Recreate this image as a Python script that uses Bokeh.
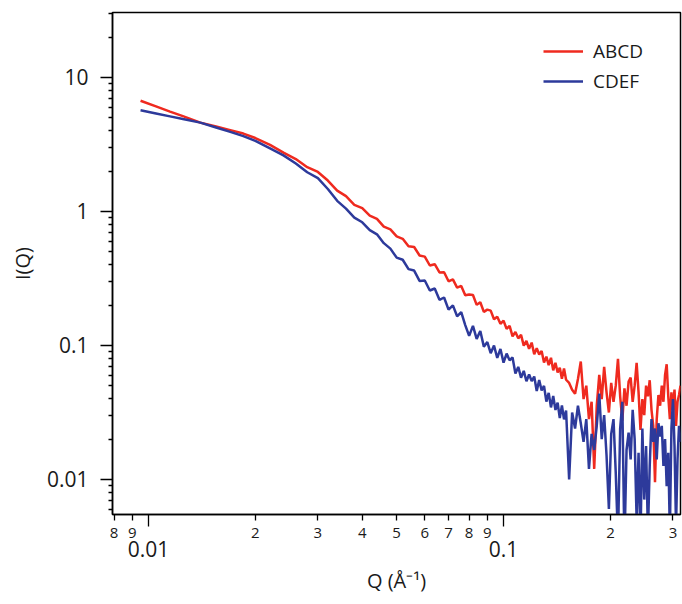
from bokeh.plotting import figure
from bokeh.models import (FixedTicker, LogAxis, CustomJSTickFormatter, Legend,
                          LegendItem, Range1d)
from bokeh.embed import file_html
from bokeh.resources import INLINE

# ---------------- data ----------------
Q = [0.0095, 0.0105, 0.0115, 0.0125, 0.014, 0.0155, 0.017, 0.0185, 0.020, 0.022,
     0.024, 0.026, 0.028, 0.030, 0.032, 0.034, 0.036, 0.038, 0.040, 0.042,
     0.044, 0.046, 0.048, 0.050,
     0.052, 0.054, 0.056, 0.058, 0.060, 0.062, 0.064, 0.066, 0.068, 0.070,
     0.072, 0.074, 0.076, 0.078, 0.080, 0.082, 0.084, 0.086, 0.088, 0.090,
     0.092, 0.094, 0.096, 0.098, 0.100, 0.102, 0.104, 0.106, 0.108, 0.110,
     0.112, 0.114, 0.116, 0.118, 0.120, 0.122, 0.124, 0.126, 0.128, 0.130,
     0.132, 0.134, 0.136, 0.138, 0.140, 0.142, 0.144, 0.146, 0.148, 0.150,
     0.153, 0.156, 0.159, 0.162, 0.165, 0.168, 0.171, 0.174, 0.177, 0.180,
     0.183, 0.186, 0.189, 0.192, 0.195, 0.198, 0.201, 0.204, 0.207, 0.210,
     0.213, 0.216, 0.219, 0.222, 0.225, 0.228, 0.231, 0.234, 0.237, 0.240,
     0.243, 0.246, 0.249, 0.252, 0.255, 0.258, 0.261, 0.264, 0.267, 0.270,
     0.273, 0.276, 0.279, 0.282, 0.285, 0.288, 0.291, 0.294, 0.297, 0.300,
     0.303, 0.306, 0.309, 0.312, 0.315]

I_ABCD = [6.70, 6.08, 5.56, 5.14, 4.60, 4.30, 4.04, 3.81, 3.53, 3.14,
          2.75, 2.46, 2.14, 1.97, 1.70, 1.43, 1.30, 1.12, 1.06, 0.93,
          0.88, 0.77, 0.735, 0.652,
          0.625, 0.550, 0.543, 0.469, 0.460, 0.395, 0.404, 0.351, 0.352, 0.301,
          0.311, 0.270, 0.278, 0.237, 0.240, 0.238, 0.201, 0.210, 0.178, 0.185,
          0.182, 0.157, 0.164, 0.145, 0.153, 0.133, 0.140, 0.117, 0.126, 0.113,
          0.120, 0.0998, 0.108, 0.0944, 0.105, 0.0859, 0.0953, 0.0857, 0.0908, 0.0745,
          0.0826, 0.0713, 0.0809, 0.0652, 0.0743, 0.0628, 0.0682, 0.0564, 0.0673, 0.0555,
          0.0525, 0.0468, 0.0437, 0.0562, 0.0759, 0.0398, 0.0501, 0.0282, 0.0380, 0.0120,
          0.0355, 0.0603, 0.0398, 0.0692, 0.0447, 0.0316, 0.0525, 0.0380, 0.0501, 0.0794,
          0.0417, 0.0275, 0.0479, 0.0355, 0.0537, 0.0575, 0.0380, 0.0501, 0.0741, 0.0447,
          0.0234, 0.0398, 0.0302, 0.0501, 0.0417, 0.0550, 0.0331, 0.0251, 0.00955, 0.0282,
          0.0427, 0.0355, 0.0501, 0.0380, 0.0603, 0.0724, 0.0417, 0.0282, 0.0447, 0.0331,
          0.0468, 0.0251, 0.0380, 0.0427, 0.0501]

I_CDEF = [5.68, 5.38, 5.12, 4.89, 4.60, 4.23, 3.92, 3.65, 3.36, 2.95,
          2.62, 2.28, 1.96, 1.77, 1.47, 1.20, 1.05, 0.90, 0.83, 0.725,
          0.675, 0.58, 0.528, 0.452,
          0.436, 0.371, 0.362, 0.303, 0.305, 0.257, 0.266, 0.219, 0.228, 0.185,
          0.199, 0.165, 0.177, 0.142, 0.118, 0.140, 0.112, 0.128, 0.0980, 0.106,
          0.0875, 0.0998, 0.0807, 0.0942, 0.0745, 0.0869, 0.0776, 0.0813, 0.0617, 0.0692,
          0.0575, 0.0646, 0.0541, 0.0607, 0.0543, 0.0586, 0.0457, 0.0553, 0.0462, 0.0499,
          0.0381, 0.0443, 0.0345, 0.0420, 0.0330, 0.0374, 0.0287, 0.0357, 0.0281, 0.0327,
          0.0100, 0.0316, 0.0240, 0.0355, 0.0263, 0.0191, 0.0282, 0.0120, 0.0219, 0.0166,
          0.0251, 0.0437, 0.0200, 0.0302, 0.0151, 0.00603, 0.0219, 0.0282, 0.0112, 0.00355,
          0.0240, 0.0380, 0.00316, 0.0166, 0.0224, 0.0141, 0.0331, 0.0200, 0.00501, 0.0158,
          0.00355, 0.0240, 0.00708, 0.0178, 0.00398, 0.0126, 0.0282, 0.0191, 0.0240, 0.0141,
          0.0263, 0.0209, 0.0251, 0.0126, 0.0200, 0.00891, 0.0158, 0.00398, 0.0240, 0.0398,
          0.0178, 0.00447, 0.0141, 0.0251, 0.0191]

SERIES_NAMES = ["ABCD", "CDEF"]
SERIES_COLORS = ["#ef2a1f", "#2d3a9b"]

X_TICKS = [0.008, 0.009, 0.02, 0.03, 0.04, 0.05, 0.06, 0.07, 0.08, 0.09, 0.2, 0.3]
X_TICK_LABELS = ["8", "9", "2", "3", "4", "5", "6", "7", "8", "9", "2", "3"]
X_DECADES = [0.01, 0.1]
X_DECADE_LABELS = ["0.01", "0.1"]
Y_TICKS = [0.01, 0.1, 1, 10]
Y_TICK_LABELS = ["0.01", "0.1", "1", "10"]
Y_MINOR = [0.006, 0.007, 0.008, 0.009,
           0.02, 0.03, 0.04, 0.05, 0.06, 0.07, 0.08, 0.09,
           0.2, 0.3, 0.4, 0.5, 0.6, 0.7, 0.8, 0.9,
           2, 3, 4, 5, 6, 7, 8, 9, 20, 30]

X_RANGE = (0.00792, 0.315)
Y_RANGE = (0.00548, 30.5)

FONT = "Open Sans"
TXT = "#1a1a1a"

LABEL_JS = """
let best = 0;
for (let i = 0; i < tvals.length; i++) {
  if (Math.abs(Math.log(tvals[i] / tick)) < Math.abs(Math.log(tvals[best] / tick))) best = i;
}
return tlabels[best];
"""


def fmt(vals, labels):
    return CustomJSTickFormatter(args=dict(tvals=vals, tlabels=labels), code=LABEL_JS)


p = figure(width=682, height=604, x_axis_type="log", y_axis_type="log",
           x_range=Range1d(*X_RANGE), y_range=Range1d(*Y_RANGE),
           output_backend="svg", toolbar_location=None,
           min_border_left=112, min_border_right=2, min_border_top=12,
           min_border_bottom=90)
p.background_fill_color = "white"
p.border_fill_color = "white"
p.outline_line_color = "black"
p.outline_line_width = 1.5
p.xgrid.visible = False
p.ygrid.visible = False

# x axis: digit labels
xa = p.xaxis[0]
xa.ticker = FixedTicker(ticks=X_TICKS, minor_ticks=X_DECADES)
xa.formatter = fmt(X_TICKS, X_TICK_LABELS)
xa.major_tick_out = 6
xa.major_tick_in = 0
xa.minor_tick_out = 12
xa.minor_tick_in = 0
xa.major_label_standoff = 1
xa.major_label_text_font = FONT
xa.major_label_text_font_size = "15px"
xa.major_label_text_color = TXT
xa.axis_line_width = 1.5
xa.major_tick_line_width = 1.3
xa.minor_tick_line_width = 1.3

# x axis: decade labels + title
xb = LogAxis(ticker=FixedTicker(ticks=X_DECADES, minor_ticks=[]),
             formatter=fmt(X_DECADES, X_DECADE_LABELS))
xb.axis_line_color = None
xb.major_tick_line_color = None
xb.minor_tick_line_color = None
xb.major_tick_out = 0
xb.major_tick_in = 0
xb.minor_tick_out = 0
xb.major_label_standoff = 0
xb.major_label_text_font = FONT
xb.major_label_text_font_size = "21px"
xb.major_label_text_color = TXT
xb.axis_label = "Q (Å⁻¹)"
xb.axis_label_text_font = FONT
xb.axis_label_text_font_size = "20px"
xb.axis_label_text_font_style = "normal"
xb.axis_label_text_color = TXT
xb.axis_label_standoff = 7
p.add_layout(xb, "below")

# y axis
ya = p.yaxis[0]
ya.ticker = FixedTicker(ticks=Y_TICKS, minor_ticks=Y_MINOR)
ya.formatter = fmt(Y_TICKS, Y_TICK_LABELS)
ya.major_tick_out = 12
ya.major_tick_in = 0
ya.minor_tick_out = 4
ya.minor_tick_in = 0
ya.major_label_standoff = 12
ya.major_label_text_font = FONT
ya.major_label_text_font_size = "21px"
ya.major_label_text_color = TXT
ya.axis_line_width = 1.5
ya.major_tick_line_width = 1.3
ya.minor_tick_line_width = 1.3
ya.axis_label = "I(Q)"
ya.axis_label_text_font = FONT
ya.axis_label_text_font_size = "20px"
ya.axis_label_text_font_style = "normal"
ya.axis_label_text_color = TXT
ya.axis_label_standoff = 8

renderers = []
for vals, col in zip([I_ABCD, I_CDEF], SERIES_COLORS):
    renderers.append(p.line(Q, vals, line_color=col, line_width=2.5))

legend = Legend(items=[LegendItem(label=n, renderers=[r]) for n, r in zip(SERIES_NAMES, renderers)],
                location=(431, 420), padding=0, spacing=4, margin=0,
                glyph_width=40, glyph_height=20, label_height=20, label_standoff=10,
                background_fill_alpha=0, border_line_color=None,
                label_text_font=FONT, label_text_font_size="19px", label_text_color=TXT)
p.add_layout(legend)

open("out.html", "w").write(file_html(p, INLINE))
